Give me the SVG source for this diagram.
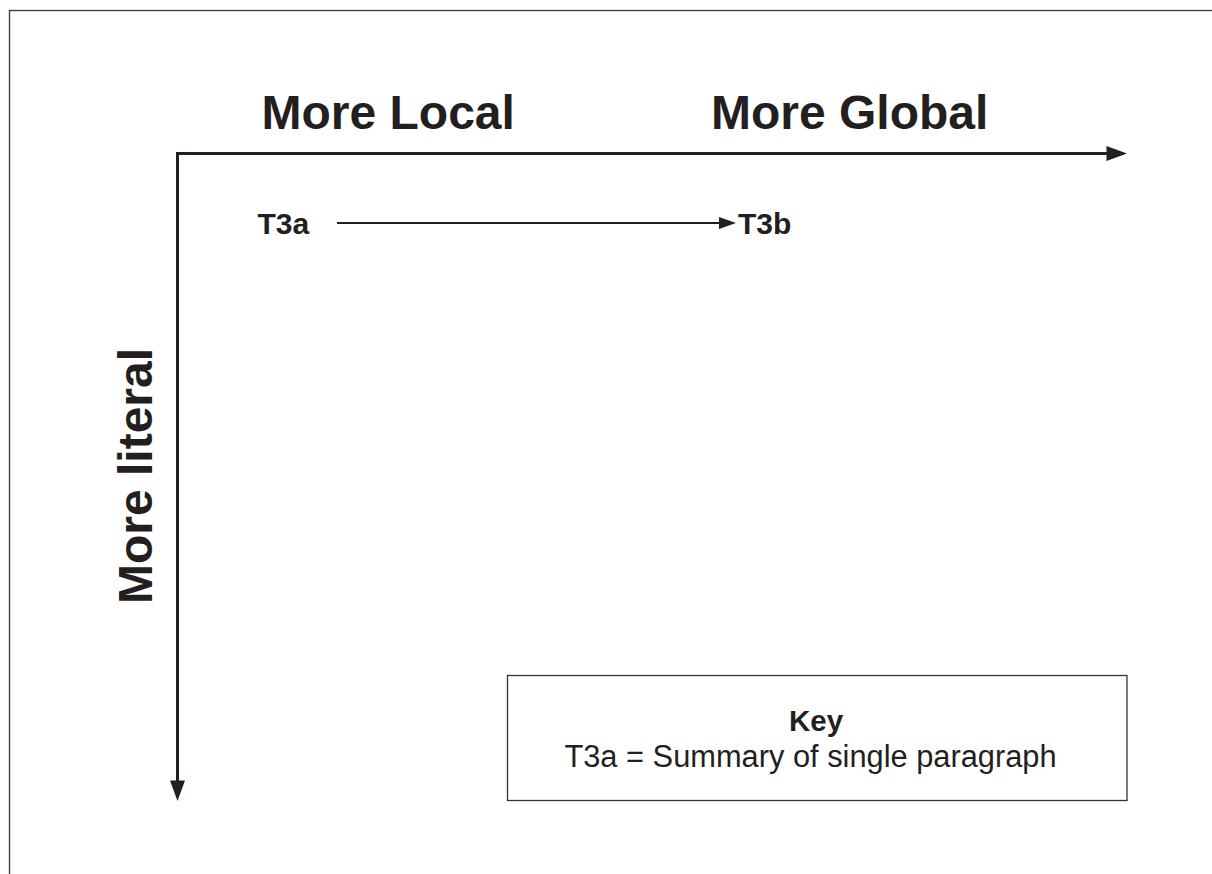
<svg xmlns="http://www.w3.org/2000/svg" width="1212" height="874" viewBox="0 0 1212 874">
<style>
text{font-family:"Liberation Sans",Arial,Helvetica,sans-serif;fill:#231f20}
.title{font-size:48px;font-weight:bold}
.node{font-size:30px;font-weight:bold}
.axis{stroke:#231f20;stroke-width:3;fill:none}
.conn{stroke:#231f20;stroke-width:2;fill:none}
.head{fill:#231f20}
</style>
<rect x="9.5" y="10.5" width="1210" height="870" fill="#fff" stroke="#444" stroke-width="1.4"/>
<g id="axis-labels">
<text class="title" x="261.5" y="129">More Local</text>
<text class="title" x="711" y="129">More Global</text>
<text class="title" transform="translate(152,604) rotate(-90)" x="0" y="0">More literal</text>
</g>
<g id="connectors">
<path class="axis" d="M177.5,152 V782"/>
<path class="axis" d="M176,153.5 H1108"/>
<polygon class="head" points="1106.5,146 1127,153.5 1106.5,161"/>
<polygon class="head" points="170,780.5 185,780.5 177.5,801"/>
<path class="conn" d="M337,223 H721"/>
<polygon class="head" points="719,217 736,223 719,229"/>
</g>
<g id="node-T3a"><text class="node" x="257.5" y="234" font-size="30.5">T3a</text></g>
<g id="node-T3b"><text class="node" x="738" y="234">T3b</text></g>
<g id="key">
<rect x="507.5" y="675.5" width="619.5" height="125" fill="none" stroke="#333" stroke-width="1.3"/>
<text x="816" y="731" text-anchor="middle" font-size="29.5" font-weight="bold">Key</text>
<text x="810.5" y="767" text-anchor="middle" font-size="30.8">T3a = Summary of single paragraph</text>
</g>
</svg>
